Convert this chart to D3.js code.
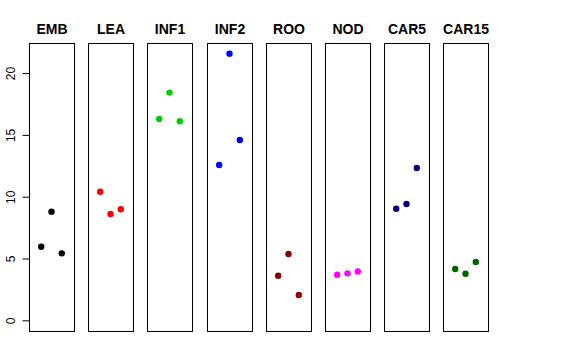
<!DOCTYPE html>
<html><head><meta charset="utf-8">
<script src="https://cdn.jsdelivr.net/npm/d3@7"></script>
<style>body{margin:0;background:#fff;} svg{display:block;}</style>
</head><body>
<svg id="c" width="576" height="360"></svg>
<script>
const categories = ["EMB","LEA","INF1","INF2","ROO","NOD","CAR5","CAR15"];
const colors = ["#000000","#FF0000","#00CD00","#0000FF","#8B0000","#FF00FF","#000080","#006400"];
const rep1 = [5.95, 10.4, 16.29, 12.56, 3.61, 3.69, 9.03, 4.15];
const rep2 = [8.79, 8.6, 18.42, 21.57, 5.36, 3.8, 9.41, 3.77];
const rep3 = [5.42, 8.98, 16.1, 14.59, 2.05, 3.96, 12.32, 4.72];
const yTicks = [0, 5, 10, 15, 20];

const svg = d3.select("#c");
const plotTop = 43, plotBottom = 331;
const yMax = d3.max([...rep1, ...rep2, ...rep3]);
const pad = yMax * 0.04;
const y = d3.scaleLinear().domain([-pad, yMax + pad]).range([plotBottom, plotTop]);

const panelW = 45, firstLeft = 29, pitch = 59.2;
const x = d3.scaleLinear().domain([2 - 2.185, 2 + 2.185]).range([0, panelW]);

// y axis
const axis = d3.axisLeft(y).tickValues(yTicks).tickSize(7).tickFormat(d3.format("d"));
const ag = svg.append("g").attr("transform", `translate(${firstLeft + 0.5},0)`).call(axis);
ag.select(".domain").remove();
ag.selectAll(".tick line").attr("stroke", "#000");
ag.selectAll(".tick text")
  .attr("font-family", "Liberation Sans, Arial, sans-serif")
  .attr("font-size", 12).attr("fill", "#000")
  .attr("x", null).attr("y", null).attr("dy", null)
  .attr("text-anchor", "middle")
  .attr("transform", "translate(-15,0) rotate(-90)");

categories.forEach((cat, i) => {
  const left = Math.round(firstLeft + pitch * i);
  const g = svg.append("g").attr("transform", `translate(${left},0)`);
  g.append("rect").attr("x", 0.5).attr("y", plotTop + 0.5)
    .attr("width", panelW).attr("height", plotBottom - plotTop)
    .attr("fill", "none").attr("stroke", "#000").attr("stroke-width", 1);
  g.append("text").attr("x", panelW / 2 + 0.5).attr("y", 34)
    .attr("text-anchor", "middle")
    .attr("font-family", "Liberation Sans, Arial, sans-serif")
    .attr("font-weight", "bold").attr("font-size", 14).text(cat);
  const vals = [rep1[i], rep2[i], rep3[i]];
  g.selectAll("circle").data(vals).enter().append("circle")
    .attr("cx", (d, j) => x(j + 1))
    .attr("cy", d => y(d))
    .attr("r", 3.2)
    .attr("fill", colors[i]);
});
</script>
</body></html>
